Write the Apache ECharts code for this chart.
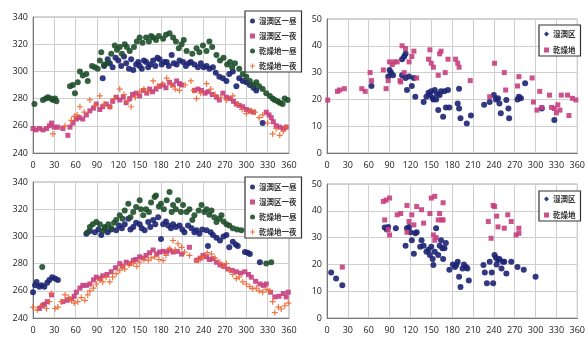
<!DOCTYPE html>
<html>
<head>
<meta charset="utf-8">
<script src="https://cdn.jsdelivr.net/npm/echarts@6/dist/echarts.min.js"></script>
<style>
  html, body { margin: 0; padding: 0; background: #fff; }
  #chart { width: 588px; height: 338px; }
</style>
</head>
<body>
<div id="chart"></div>
<script>
// 軸目盛
var xTicks = [0, 30, 60, 90, 120, 150, 180, 210, 240, 270, 300, 330, 360];
var tempTicks = [240, 260, 280, 300, 320, 340];
var diffTicks = [0, 10, 20, 30, 40, 50];

// 凡例
var namesTemp = ['湿潤区一昼', '湿潤区一夜', '乾燥地一昼', '乾燥地一夜'];
var namesDiff = ['湿潤区', '乾燥地'];

// 上段左 (昼・夜の温度)
var tlWetDay = [[98,295],[100,304],[105,309],[108,306],[112,303],[116,310],[120,308],[124,304],[128,311],[131,306],[135,302],[138,309],[141,301],[145,305],[148,307],[150,304],[153,302],[156,308],[159,307],[162,303],[165,305],[169,308],[172,304],[175,310],[178,309],[181,305],[185,307],[188,307],[191,304],[195,312],[198,306],[202,305],[206,308],[211,307],[215,304],[219,306],[222,307],[227,305],[232,303],[236,306],[240,303],[244,304],[248,302],[253,303],[257,299],[262,296],[267,295],[272,293],[276,298],[281,300],[286,289],[290,295],[295,293],[300,292],[305,290],[310,288],[314,286],[323,262]];
var tlWetNight = [[0,258],[4,257],[9,258],[14,257],[19,258],[23,260],[26,262],[30,259],[35,259],[42,258],[49,253],[52,259],[56,262],[61,265],[65,266],[70,265],[75,268],[80,271],[85,273],[89,276],[94,272],[98,274],[103,276],[108,274],[112,278],[117,281],[122,279],[127,281],[131,277],[136,280],[140,283],[145,284],[150,282],[155,286],[160,284],[164,287],[168,285],[173,287],[178,289],[183,290],[187,288],[192,292],[197,290],[202,293],[206,291],[209,290],[227,286],[232,287],[237,286],[242,284],[246,285],[252,283],[258,281],[262,279],[267,284],[272,281],[277,280],[282,278],[286,276],[290,275],[295,274],[300,272],[305,271],[310,270],[328,270],[332,268],[335,266],[338,263],[342,260],[347,259],[352,258],[356,259],[361,260]];
var tlDryDay = [[2,276],[14,279],[18,280],[21,281],[25,280],[28,279],[31,280],[33,278],[52,289],[56,290],[59,284],[63,292],[66,300],[70,297],[75,298],[77,293],[83,304],[87,303],[91,302],[94,308],[96,314],[100,305],[105,306],[110,313],[115,319],[118,316],[122,318],[125,313],[129,320],[132,318],[136,315],[142,318],[146,322],[150,325],[154,321],[159,325],[163,322],[166,326],[169,325],[173,323],[177,326],[183,324],[187,327],[192,328],[197,325],[201,322],[205,317],[209,320],[212,323],[216,315],[224,313],[230,317],[234,314],[239,319],[244,315],[248,322],[252,318],[258,312],[263,308],[268,310],[273,305],[277,307],[280,303],[284,306],[290,302],[295,298],[300,296],[305,293],[310,290],[314,292],[318,289],[323,287],[328,284],[333,282],[337,280],[340,279],[344,278],[347,277],[351,276],[354,280],[358,279],[361,280]];
var tlDryNight = [[28,254],[45,260],[54,264],[58,267],[62,268],[66,274],[72,270],[80,279],[88,275],[94,282],[100,276],[108,274],[114,280],[122,287],[128,283],[133,278],[138,274],[144,281],[150,285],[156,287],[162,285],[169,293],[175,289],[182,291],[188,295],[194,290],[200,287],[206,286],[214,290],[222,293],[226,286],[230,280],[236,284],[244,291],[250,287],[256,283],[264,281],[272,279],[281,282],[288,276],[294,272],[300,269],[306,271],[312,270],[318,266],[323,268],[330,262],[337,254],[342,258],[347,253],[352,256],[356,259]];

// 上段右 (昼夜差)
var trWet = [[64,25],[88,28.5],[90,31],[92,30],[95,29],[108,35],[111,36],[113,37],[108,29],[113,28],[118,28.5],[122,25],[125,28],[115,23.5],[127,21],[139,19],[143,21],[146,22.5],[148,21.6],[150,23],[152,20.5],[153,20],[155,23.5],[157,20],[158,22],[162,21.6],[164,23],[169,23],[174,23.5],[160,16],[167,13.5],[171,17],[176,17],[188,18.5],[190,16.6],[190,24],[192,13],[201,11],[207,14],[226,18],[234,19],[240,21.6],[243,20],[246,20.4],[248,18.5],[250,14.8],[258,19.8],[261,16.6],[262,13],[274,20],[276,21],[279,20.4],[285,26],[309,16.6],[327,12.3]];
var trDry = [[1,19.75],[15,23],[18,23.5],[25,24],[50,24],[55,23],[62,30],[64,27],[81,31],[85,24],[88,27],[90,34],[94,33],[97,34],[101,34],[105,27],[108,40],[113,39],[106,26.5],[111,30],[118,34],[122,36],[125,38],[129,28],[146,35],[148,38.5],[150,33.5],[153,32],[160,29],[162,37],[164,38],[170,30],[174,35],[185,35],[188,33.5],[190,32],[206,27],[234,21],[241,33.5],[255,30],[257,23.5],[274,25],[276,28.5],[295,28],[297,19],[302,16],[306,23],[309,17],[320,21.6],[323,17],[327,16.6],[330,15],[332,18],[335,16],[337,21.6],[346,21.6],[348,14],[353,20.4],[358,19.8]];

// 下段左
var blWetDay = [[0,259],[3,264],[5,266.5],[9,263],[12,264],[16,263],[20,266],[23,268],[27,270],[31,269],[35,268],[75,302],[80,304],[87,303],[92,305],[96,301],[101,306],[105,303],[110,305],[117,304.5],[121,308],[125,306],[129,309],[134,313],[137,305],[141,307],[145,310],[150,309],[153,306],[157,304.5],[162,310.6],[165,307],[169,312],[172,309],[176,314],[180,298],[183,309],[187,311],[190,308],[194,306],[197,309],[201,307],[206,308],[210,305],[213,303],[218,308],[223,306],[227,303],[230,304.5],[234,302],[238,305],[244,304.5],[246,293],[250,303],[253,301],[258,299],[263,297],[268,300],[272,301],[276,292],[281,296],[285,294],[288,293],[298,288.5],[302,288],[305,287],[319,281]];
var blWetNight = [[9,247],[13,249],[16,250],[20,252],[26,257],[42,252],[48,253],[54,254],[58,256],[61,259],[66,262],[70,264],[75,264],[80,265],[85,268],[89,270],[94,269],[98,271],[104,272],[110,274],[116,277],[122,280],[126,278],[131,281],[136,280],[141,282.4],[145,283],[150,285],[155,284],[159,286],[164,288],[169,290],[174,287],[178,288.5],[183,289],[188,288.5],[192,290],[197,288.5],[203,289],[209,287],[220,292],[230,282.4],[235,284],[239,286],[244,285],[248,283],[253,283.6],[258,281],[263,279],[268,278],[274,276],[280,275],[286,274],[292,273],[298,274],[303,272],[307,270],[313,267],[319,265],[324,264],[328,265],[334,259],[340,255.5],[346,256],[352,258],[356,255.5],[359,259]];
var blDryDay = [[13,277.5],[77,303],[80,307],[84,309],[89,310.6],[94,309],[98,304],[101,307],[106,309],[110,306],[114,310],[117,312],[122,315.5],[126,313],[129,319],[134,324],[137,314],[141,318],[145,321.6],[150,326.5],[152,320],[155,315.5],[159,320],[163,318],[166,325],[171,329],[173,330],[177,322],[180,324],[184,320],[188,326.5],[192,332.6],[195,318],[197,323],[201,320],[204,326.5],[208,318],[211,323],[216,318],[220,320],[224,312],[227,315.5],[233,319],[237,323],[241,318],[244,320],[248,316],[251,319],[255,314],[258,310.6],[262,313],[265,315.5],[268,311],[272,309],[276,308],[281,306],[287,305],[293,304.5],[328,280],[335,281]];
var blDryNight = [[0,248],[6,246],[12,249],[19,247],[23,252],[26,258],[31,247],[35,248],[40,252],[45,257],[50,255],[54,253],[58,251],[63,252],[68,255],[73,253],[77,257],[80,260],[85,262],[89,265],[94,268],[98,266.5],[103,270],[108,266.5],[112,270],[117,272.6],[122,275],[126,278],[129,276],[135,279],[141,280],[146,278],[150,281],[156,283],[162,282.4],[166,284],[171,285],[177,283],[183,282.4],[187,286],[192,291],[197,297],[200,290],[204,294.6],[209,292],[213,288.5],[220,286],[230,282.4],[235,283],[239,285],[245,288],[251,287],[256,284],[263,281],[268,278],[272,280],[276,275],[281,272],[286,269],[290,270],[295,266.5],[300,265],[305,263],[309,261.6],[314,262],[318,260],[323,259],[328,261],[333,260],[337,252],[340,244],[345,248],[349,246.6],[354,249],[359,251]];

// 下段右
var brWet = [[6,17],[13,14.75],[22,12.25],[83,33.75],[86,33],[88,34],[99,33.5],[113,27],[115,33.5],[118,34],[120,32],[122,29],[125,24],[127,31.6],[129,32],[134,26.6],[136,29],[139,27],[143,24.75],[146,25.5],[148,23.5],[150,26.6],[152,22],[153,19.75],[155,24.75],[157,33.5],[160,23.5],[162,27],[164,29],[166,26],[167,22],[169,26],[171,28],[176,18],[181,20],[184,19],[186,19.75],[188,21],[190,15.4],[192,11.6],[195,18.5],[197,20],[200,19],[202,18.5],[204,14],[225,19.75],[227,17],[230,13],[234,21],[237,17],[239,13],[241,23.5],[243,22.5],[244,20],[246,21.6],[248,22],[251,18.5],[253,21],[255,21],[258,16.6],[265,21],[274,19],[283,18],[300,15.4]];
var brDry = [[22,19],[81,43.5],[83,36.6],[85,44],[88,33],[90,44.75],[90,31],[101,38.5],[106,39],[115,42],[115,32],[118,36],[122,38.5],[125,34.75],[129,41.6],[136,40.4],[139,35.4],[148,39],[150,44.75],[153,31],[155,45.4],[155,29],[157,30],[160,36.6],[162,39],[165,36.6],[167,36.6],[167,43],[232,36],[236,29.75],[239,42],[241,41.6],[244,38],[246,34],[255,33.5],[260,38.5],[265,36],[272,31],[276,33.5],[276,31.6]];

var C_WET_DAY = '#1c2473';
var C_WET_NIGHT = '#c63f80';
var C_DRY_DAY = '#1e4f2a';
var C_DRY_NIGHT = '#f0642c';
var PLUS = 'path://M4,0H6V4H10V6H6V10H4V6H0V4H4Z';
var FONT = '"Noto Sans CJK JP", sans-serif';

var grids = [
    {left: 33, top: 17, width: 256, height: 136},
    {left: 327, top: 19, width: 257, height: 134},
    {left: 33, top: 182, width: 256, height: 136},
    {left: 327, top: 184, width: 257, height: 134}
];

function xAxisFor(i) {
    return {
        type: 'value', gridIndex: i, min: 0, max: 360, interval: 30,
        axisLine: {show: true, onZero: false, lineStyle: {color: '#777', width: 1}},
        axisTick: {show: false},
        axisLabel: {color: '#222', fontSize: 9, fontFamily: 'Open Sans', margin: 8,
            formatter: function (v) { return xTicks.indexOf(v) >= 0 ? v : ''; }},
        splitLine: {show: true, lineStyle: {color: '#cfcfcf', width: 1}}
    };
}
function yAxisFor(i, lo, hi, step) {
    return {
        type: 'value', gridIndex: i, min: lo, max: hi, interval: step,
        axisLine: {show: true, lineStyle: {color: '#777', width: 1}},
        axisTick: {show: false},
        axisLabel: {color: '#222', fontSize: 9, fontFamily: 'Open Sans', margin: 5},
        splitLine: {show: true, lineStyle: {color: '#cfcfcf', width: 1}}
    };
}
function sc(name, idx, data, color, symbol, size) {
    return {
        name: name, type: 'scatter', xAxisIndex: idx, yAxisIndex: idx,
        data: data, symbol: symbol, symbolSize: size,
        itemStyle: {color: color, opacity: 0.9}, silent: true, animation: false
    };
}
function legendFor(names, icons, colors, left, top, gap, padTop) {
    return {
        data: names.map(function (n, k) { return {name: n, icon: icons[k], itemStyle: {color: colors[k]}}; }),
        orient: 'vertical', left: left, top: top,
        backgroundColor: '#fff', borderColor: '#333', borderWidth: 1.2,
        padding: [padTop, 5, 2, 5], itemGap: gap, itemWidth: 5, itemHeight: 5,
        textStyle: {fontSize: 7.5, lineHeight: 8, fontWeight: 'bold', color: '#333', fontFamily: FONT, padding: [0, 0, 0, -1]},
        selectedMode: false
    };
}

var iconsTemp = ['circle', 'rect', 'circle', PLUS];
var colorsTemp = [C_WET_DAY, C_WET_NIGHT, C_DRY_DAY, C_DRY_NIGHT];
var iconsDiff = ['diamond', 'rect'];
var colorsDiff = [C_WET_DAY, C_WET_NIGHT];

var myEcharts = echarts.init(document.getElementById('chart'), null, {renderer: 'canvas'});
myEcharts.setOption({
    animation: false,
    grid: grids.map(function (g) { return Object.assign({show: true, borderColor: '#aaa', borderWidth: 1}, g); }),
    xAxis: [xAxisFor(0), xAxisFor(1), xAxisFor(2), xAxisFor(3)],
    yAxis: [yAxisFor(0, 240, 340, 20), yAxisFor(1, 0, 50, 10), yAxisFor(2, 240, 340, 20), yAxisFor(3, 0, 50, 10)],
    legend: [
        legendFor(namesTemp, iconsTemp, colorsTemp, 245, 11, 7, 6),
        legendFor(namesDiff, iconsDiff, colorsDiff, 539, 25, 8, 5),
        legendFor(namesTemp, iconsTemp, colorsTemp, 245, 177, 7, 6),
        legendFor(namesDiff, iconsDiff, colorsDiff, 539, 191, 8, 4)
    ],
    series: [
        sc(namesTemp[0], 0, tlWetDay, C_WET_DAY, 'circle', 6),
        sc(namesTemp[1], 0, tlWetNight, C_WET_NIGHT, 'rect', 5),
        sc(namesTemp[2], 0, tlDryDay, C_DRY_DAY, 'circle', 6),
        sc(namesTemp[3], 0, tlDryNight, C_DRY_NIGHT, PLUS, 6),
        sc(namesDiff[0], 1, trWet, C_WET_DAY, 'circle', 6),
        sc(namesDiff[1], 1, trDry, C_WET_NIGHT, 'rect', 5),
        sc(namesTemp[0], 2, blWetDay, C_WET_DAY, 'circle', 6),
        sc(namesTemp[1], 2, blWetNight, C_WET_NIGHT, 'rect', 5),
        sc(namesTemp[2], 2, blDryDay, C_DRY_DAY, 'circle', 6),
        sc(namesTemp[3], 2, blDryNight, C_DRY_NIGHT, PLUS, 6),
        sc(namesDiff[0], 3, brWet, C_WET_DAY, 'circle', 6),
        sc(namesDiff[1], 3, brDry, C_WET_NIGHT, 'rect', 5)
    ]
});
</script>
</body>
</html>
